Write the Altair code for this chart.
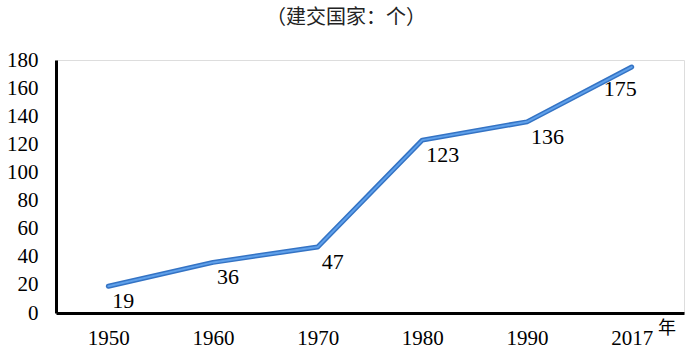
import altair as alt
import pandas as pd

years = ["1950", "1960", "1970", "1980", "1990", "2017"]
counts = [19, 36, 47, 123, 136, 175]
label_pos = ["r", "r", "r", "r", "r", "l"]
title_text = "（建交国家：个）"
unit_text = "年"

df = pd.DataFrame({"year": years, "count": counts, "pos": label_pos})

W, H = 628, 253
serif = "Times New Roman, Liberation Serif, serif"
cjk = "Noto Sans CJK SC"

x = alt.X("year:N", sort=years,
          scale=alt.Scale(paddingInner=0, paddingOuter=0.5),
          axis=alt.Axis(title=None, labelAngle=0, labelFont=serif, labelFontSize=21,
                        labelColor="black", ticks=False, domainColor="black",
                        domainWidth=3, labelPadding=14, grid=False))
y = alt.Y("count:Q", scale=alt.Scale(domain=[0, 180], nice=False),
          axis=alt.Axis(title=None, values=list(range(0, 181, 20)), labelFont=serif,
                        labelFontSize=21, labelColor="black", ticks=False,
                        domainColor="black", domainWidth=3, labelPadding=18, grid=False))

base = alt.Chart(df)
outer = base.mark_line(color="#3473c4", strokeWidth=5, strokeCap="round", strokeJoin="round").encode(x=x, y=y)
inner = base.mark_line(color="#5fa0ea", strokeWidth=2, strokeCap="round", strokeJoin="round").encode(x=x, y=y)

lab_r = base.transform_filter("datum.pos == 'r'").mark_text(
    font=serif, fontSize=22, color="black", align="left", baseline="top", dx=4, dy=5
).encode(x=x, y=y, text="count:Q")
lab_l = base.transform_filter("datum.pos == 'l'").mark_text(
    font=serif, fontSize=22, color="black", align="right", baseline="top", dx=5, dy=12
).encode(x=x, y=y, text="count:Q")

title = alt.Chart(pd.DataFrame({"t": [title_text]})).mark_text(
    font=cjk, fontSize=20, color="#222222", align="center", baseline="middle"
).encode(x=alt.value(290), y=alt.value(-42), text="t:N")
unit = alt.Chart(pd.DataFrame({"t": [unit_text]})).mark_text(
    font=cjk, fontSize=18, color="black", align="center", baseline="middle"
).encode(x=alt.value(611), y=alt.value(269), text="t:N")

chart = alt.layer(outer, inner, lab_r, lab_l, title, unit).properties(
    width=W, height=H,
    autosize=alt.AutoSizeParams(type="none"),
    padding={"left": 56, "top": 60, "right": 2, "bottom": 43},
).configure_view(stroke=None).configure(background="white")

chart.save("out.html", embed_options={"renderer": "svg", "actions": False})
